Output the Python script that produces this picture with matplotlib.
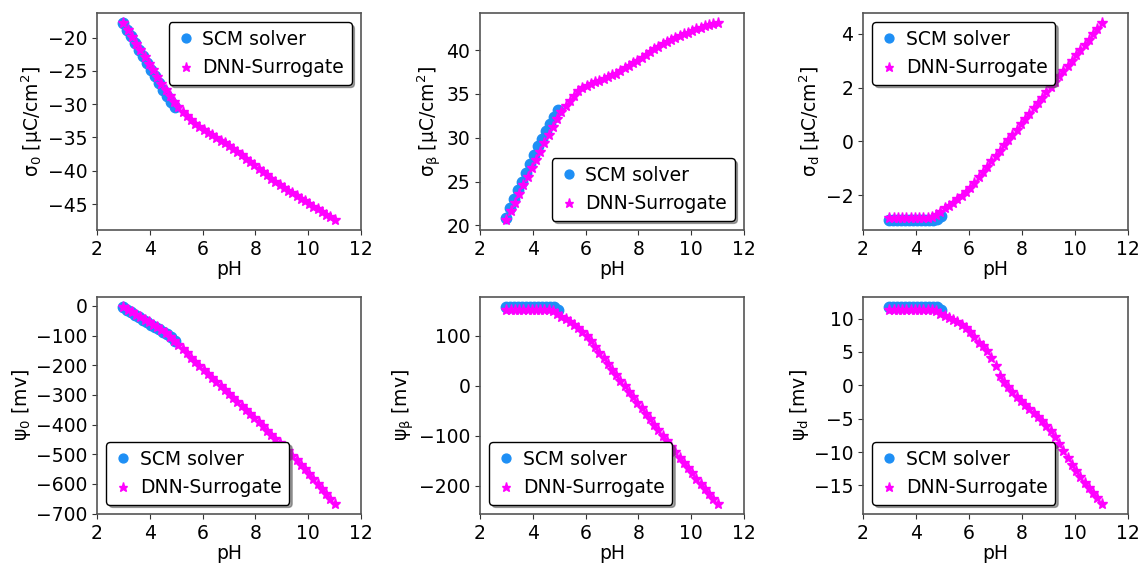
import matplotlib
matplotlib.use('Agg')
import matplotlib.pyplot as plt

# pH grids
ph_scm = [3.00, 3.15, 3.30, 3.45, 3.60, 3.75, 3.90, 4.05, 4.20, 4.35, 4.50, 4.65, 4.80, 4.95]
ph_dnn = [3.00, 3.16, 3.32, 3.48, 3.64, 3.80, 3.96, 4.12, 4.28, 4.44,
          4.60, 4.76, 4.92, 5.08, 5.24, 5.40, 5.56, 5.72, 5.88, 6.04,
          6.20, 6.36, 6.52, 6.68, 6.84, 7.00, 7.16, 7.32, 7.48, 7.64,
          7.80, 7.96, 8.12, 8.28, 8.44, 8.60, 8.76, 8.92, 9.08, 9.24,
          9.40, 9.56, 9.72, 9.88, 10.04, 10.20, 10.36, 10.52, 10.68, 10.84,
          11.00]

# sigma_0
sig0_scm = [-17.8, -18.8, -19.8, -20.8, -21.8, -22.8, -23.8, -24.8, -25.8, -26.8,
            -27.8, -28.7, -29.6, -30.4]
sig0_dnn = [-17.8, -18.8, -19.9, -20.9, -21.9, -22.9, -23.9, -24.9, -25.9, -26.9,
            -27.8, -28.7, -29.6, -30.4, -31.1, -31.8, -32.4, -33.0, -33.5, -33.9,
            -34.3, -34.7, -35.1, -35.5, -35.9, -36.3, -36.7, -37.2, -37.7, -38.2,
            -38.7, -39.2, -39.7, -40.2, -40.7, -41.2, -41.7, -42.2, -42.6, -43.0,
            -43.4, -43.8, -44.2, -44.6, -45.0, -45.4, -45.8, -46.2, -46.6, -47.0,
            -47.4]

# sigma_beta
sigb_scm = [20.9, 21.95, 23.0, 24.0, 25.0, 26.0, 27.0, 28.0, 29.0, 29.9,
            30.8, 31.6, 32.4, 33.2]
sigb_dnn = [20.6, 21.6, 22.6, 23.6, 24.6, 25.5, 26.5, 27.5, 28.4, 29.4,
            30.3, 31.2, 32.1, 32.9, 33.6, 34.2, 34.8, 35.3, 35.7, 35.9,
            36.1, 36.3, 36.5, 36.7, 36.9, 37.1, 37.3, 37.6, 37.9, 38.2,
            38.5, 38.8, 39.1, 39.4, 39.8, 40.1, 40.4, 40.7, 40.9, 41.2,
            41.4, 41.6, 41.8, 42.0, 42.2, 42.4, 42.5, 42.7, 42.8, 43.0,
            43.1]

# sigma_d
sigd_scm = [-2.92, -2.92, -2.92, -2.92, -2.92, -2.92, -2.92, -2.92, -2.92, -2.92,
            -2.92, -2.92, -2.88, -2.78]
sigd_dnn = [-2.85, -2.85, -2.85, -2.85, -2.85, -2.85, -2.85, -2.85, -2.85, -2.84,
            -2.80, -2.72, -2.60, -2.48, -2.38, -2.27, -2.15, -2.02, -1.88, -1.72,
            -1.53, -1.33, -1.13, -0.94, -0.74, -0.54, -0.35, -0.15, 0.05, 0.24,
            0.44, 0.64, 0.83, 1.03, 1.23, 1.42, 1.62, 1.82, 2.01, 2.21,
            2.41, 2.60, 2.80, 3.00, 3.19, 3.39, 3.59, 3.78, 3.98, 4.18,
            4.40]

# psi_0
psi0_scm = [-3, -12, -21, -30, -38, -47, -55, -63, -71, -79,
            -87, -96, -106, -118]
psi0_dnn = [-4, -12, -21, -30, -38, -47, -55, -64, -72, -81,
            -92, -104, -118, -132, -146, -160, -174, -188, -202, -216,
            -229, -243, -256, -270, -283, -297, -310, -324, -337, -351,
            -364, -378, -392, -406, -420, -434, -448, -462, -476, -490,
            -505, -520, -535, -550, -566, -582, -599, -616, -633, -650,
            -668]

# psi_beta
psib_scm = [158, 158, 158, 158, 158, 158, 158, 158, 158, 158,
            158, 158, 157, 151]
psib_dnn = [152, 152, 152, 152, 152, 152, 152, 152, 152, 152,
            152, 150, 143, 138, 134, 128, 122, 115, 108, 100,
            89, 78, 66, 55, 43, 32, 21, 10, -1, -12,
            -23, -34, -45, -56, -67, -78, -89, -100, -111, -122,
            -133, -144, -154, -165, -175, -186, -196, -207, -217, -227,
            -237]

# psi_d
psid_scm = [11.75, 11.75, 11.75, 11.75, 11.75, 11.75, 11.75, 11.75, 11.75, 11.75,
            11.75, 11.75, 11.7, 11.3]
psid_dnn = [11.3, 11.3, 11.3, 11.3, 11.3, 11.3, 11.3, 11.3, 11.3, 11.3,
            11.3, 11.1, 10.7, 10.4, 10.1, 9.85, 9.5, 9.1, 8.6, 8.0,
            7.2, 6.4, 5.9, 5.1, 4.1, 2.9, 1.4, 0.5, -0.3, -1.0,
            -1.7, -2.3, -2.9, -3.6, -4.2, -4.8, -5.4, -6.1, -6.9, -7.8,
            -8.8, -9.8, -10.9, -11.9, -12.9, -13.8, -14.6, -15.4, -16.1, -16.9,
            -17.8]

ylabels = [r'σ$_\mathregular{0}$ [μC/cm$^\mathregular{2}$]',
           r'σ$_\mathregular{β}$ [μC/cm$^\mathregular{2}$]',
           r'σ$_\mathregular{d}$ [μC/cm$^\mathregular{2}$]',
           r'ψ$_\mathregular{0}$ [mv]',
           r'ψ$_\mathregular{β}$ [mv]',
           r'ψ$_\mathregular{d}$ [mv]']
yticks = [[-20, -25, -30, -35, -40, -45],
          [20, 25, 30, 35, 40],
          [-2, 0, 2, 4],
          [0, -100, -200, -300, -400, -500, -600, -700],
          [100, 0, -100, -200],
          [10, 5, 0, -5, -10, -15]]
scm_series = [sig0_scm, sigb_scm, sigd_scm, psi0_scm, psib_scm, psid_scm]
dnn_series = [sig0_dnn, sigb_dnn, sigd_dnn, psi0_dnn, psib_dnn, psid_dnn]
legend_locs = ['upper right', 'lower right', 'upper left',
               'lower left', 'lower left', 'lower left']

W, H = 1141, 565
fig = plt.figure(figsize=(W / 100, H / 100), dpi=100)

cols = [(97, 361), (480, 744), (863, 1128)]
rows = [(13, 230), (297, 514)]
fs = 13.5

for i in range(6):
    (l, r) = cols[i % 3]
    (t, b) = rows[i // 3]
    ax = fig.add_axes([l / W, 1 - b / H, (r - l) / W, (b - t) / H])
    ax.plot(ph_scm, scm_series[i], 'o', color='#1e8ff5', ms=7.5, label='SCM solver')
    ax.plot(ph_dnn, dnn_series[i], '*', color='#ff00ff', ms=8, label='DNN-Surrogate')
    ax.set_xlim(2, 12)
    ax.set_xticks([2, 4, 6, 8, 10, 12])
    ax.set_yticks(yticks[i])
    ax.set_xlabel('pH', fontsize=fs, labelpad=1)
    ax.set_ylabel(ylabels[i], fontsize=fs, labelpad=2)
    ax.tick_params(labelsize=fs, color='#333333')
    for s in ax.spines.values():
        s.set_color('#555555')
        s.set_linewidth(1.2)
    leg = ax.legend(loc=legend_locs[i], fontsize=fs, shadow=True, framealpha=1,
                    handletextpad=0.4, borderpad=0.4, handlelength=1.0,
                    markerscale=0.85)
    leg.get_frame().set_edgecolor('black')
    leg.get_frame().set_linewidth(1.0)

fig.savefig('out.png', dpi=100, facecolor='white')
